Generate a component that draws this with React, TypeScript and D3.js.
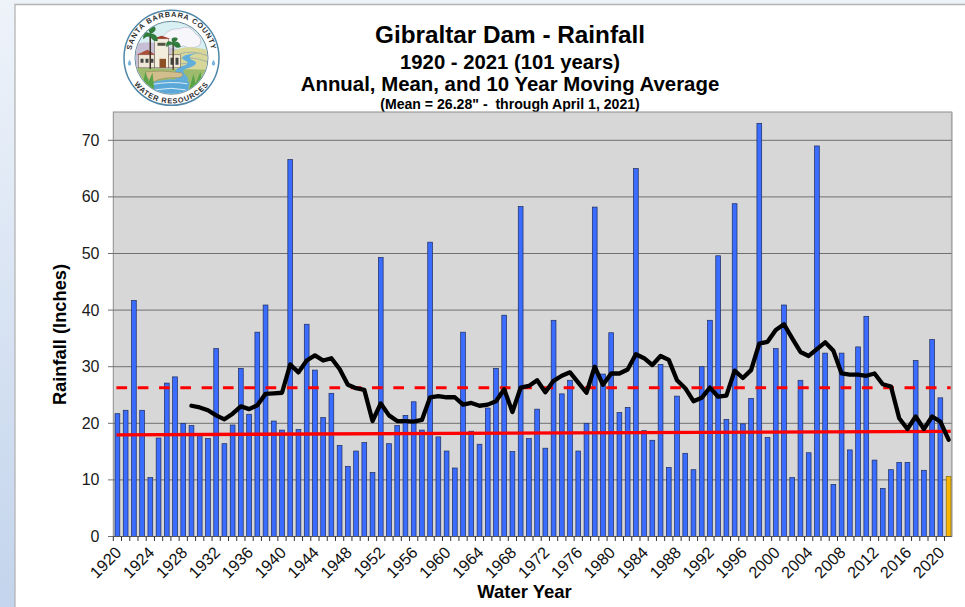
import React from "react";
import * as d3 from "d3";

const firstYear = 1920;
const annualRainfall = [
  21.7, 22.3, 41.7, 22.3, 10.4, 17.4, 27.1, 28.2, 20.0, 19.6,
  17.9, 17.3, 33.2, 16.4, 19.7, 29.7, 21.6, 36.1, 40.9, 20.4,
  18.8, 66.6, 18.9, 37.5, 29.4, 21.0, 25.3, 16.1, 12.4, 15.1,
  16.6, 11.3, 49.3, 16.4, 19.6, 21.4, 23.8, 18.8, 52.0, 17.6,
  15.1, 12.1, 36.1, 18.6, 16.3, 22.7, 29.7, 39.1, 15.0, 58.3,
  17.3, 22.5, 15.6, 38.2, 25.2, 27.6, 15.1, 20.0, 58.2, 28.7,
  36.0, 21.9, 22.8, 65.0, 18.7, 17.0, 30.4, 12.2, 24.8, 14.7,
  11.8, 30.0, 38.2, 49.6, 20.7, 58.8, 19.9, 24.4, 73.0, 17.5,
  33.2, 40.9, 10.4, 27.6, 14.8, 69.0, 32.4, 9.2, 32.4, 15.3,
  33.5, 38.9, 13.5, 8.5, 11.8, 13.1, 13.1, 31.1, 11.7, 34.8,
  24.5, 10.6,
];
const movingAverageStart = 1929;
const movingAverage = [
  23.1, 22.8, 22.3, 21.4, 20.7, 21.7, 23.0, 22.5, 23.2, 25.2,
  25.3, 25.4, 30.4, 29.0, 31.1, 32.0, 31.1, 31.5, 29.6, 26.8,
  26.2, 25.9, 20.4, 23.5, 21.4, 20.4, 20.4, 20.3, 20.6, 24.6,
  24.8, 24.6, 24.6, 23.3, 23.6, 23.1, 23.3, 23.9, 26.0, 22.0,
  26.3, 26.6, 27.6, 25.5, 27.5, 28.4, 29.0, 27.2, 25.4, 30.0,
  26.8, 28.8, 28.8, 29.5, 32.2, 31.5, 30.3, 31.9, 31.2, 27.6,
  26.2, 23.9, 24.5, 26.3, 24.7, 24.9, 29.3, 28.0, 29.4, 34.1,
  34.4, 36.5, 37.5, 35.0, 32.6, 31.9, 33.1, 34.3, 32.8, 28.8,
  28.6, 28.6, 28.4, 28.8, 26.9, 26.5, 20.9, 19.0, 21.2, 19.0,
  21.2, 20.3, 17.1,
];
const meanValue = 26.28;
const trendEnds = [17.97, 18.56];
const yTicks = [0, 10, 20, 30, 40, 50, 60, 70];
const titleLines = [
  "Gibraltar Dam - Rainfall",
  "1920 - 2021 (101 years)",
  "Annual, Mean, and 10 Year Moving Average",
  "(Mean = 26.28\" -  through April 1, 2021)",
];

const W = 965, H = 607;
const left = 113.3, right = 951.7, bandRight = 952.7, top = 112, bottom = 536.5;
const FONT = "'Liberation Sans', Arial, sans-serif";

const years = annualRainfall.map((_, i) => firstYear + i);
const x = d3.scaleBand<number>().domain(years).range([left, bandRight]).paddingInner(0.42).paddingOuter(0.21);
const y = d3.scaleLinear().domain([0, 75]).range([bottom, top]);
const cx = (yr: number) => (x(yr) as number) + x.bandwidth() / 2;
const step = x.step();

const maLine = d3.line<number>()
  .x((_, i) => cx(movingAverageStart + i))
  .y((d) => y(d))(movingAverage) as string;

function Logo() {
  const lx = 171.5, ly = 57.8;
  const p = (s: string) => s.replace(/(-?\d+\.?\d*),(-?\d+\.?\d*)/g, (_, a, b) => `${lx + +a},${ly + +b}`);
  return (
    <g>
      <defs>
        <clipPath id="logoClip"><circle cx={lx} cy={ly} r={36} /></clipPath>
        <path id="logoTop" d={`M ${lx - 40} ${ly + 8} A 40.8 40.8 0 1 1 ${lx + 40} ${ly + 8}`} />
        <path id="logoBottom" d={`M ${lx - 44} ${ly + 13} A 46 46 0 0 0 ${lx + 44} ${ly + 13}`} />
        <filter id="logoBlur"><feGaussianBlur stdDeviation="0.35" /></filter>
      </defs>
      <circle cx={lx} cy={ly} r={47.5} fill="#fff" stroke="#4f86a8" strokeWidth={1.5} />
      <circle cx={lx} cy={ly} r={36.5} fill="#d9f0f3" stroke="#5a7f92" strokeWidth={0.9} />
      <g clipPath="url(#logoClip)" filter="url(#logoBlur)">
        <path d={p("M-36,-14 Q-20,-18 -8,-12 L8,-8 L36,-8 L36,14 L-36,14 Z")} fill="#c7bfd6" />
        <path d={p("M-8,-22 Q-2,-30 8,-29 Q18,-34 24,-24 Q32,-20 28,-12 Q18,-8 12,-12 Q2,-8 -4,-14 Q-10,-16 -8,-22 Z")} fill="#f7f6fa" stroke="#a9a2bf" strokeWidth={0.5} />
        <path d={p("M0,-6 Q14,-14 36,-8 L36,20 L0,18 Z")} fill="#d7d79a" />
        <path d={p("M8,-4 Q22,-8 36,-2 M6,1 Q20,-2 36,4 M4,7 Q16,4 22,8")} fill="none" stroke="#9aa7a8" strokeWidth={0.8} />
        <path d={p("M-36,10 L36,12 L36,38 L-36,38 Z")} fill="#9dbb6c" />
        <path d={p("M29,-5 Q14,-3 20,2 Q30,5 18,10 Q8,12 14,17 Q20,22 12,26 L20,34 L-20,38 L-18,24 Q0,20 4,22 Q0,14 8,9 Q22,6 12,2 Q6,-3 29,-5 Z")} fill="#62aedb" />
        <path d={p("M-22,27 Q0,20 18,24 L16,36 L-20,38 Z")} fill="#5aa8d8" />
        <path d={p("M-22,27 Q0,23 16,26 M-16,32 Q0,29 14,32")} fill="none" stroke="#e6f4fb" strokeWidth={0.9} />
        <path d={p("M-26,14 Q-8,12 10,15 Q14,19 6,20 Q-8,19 -18,24 Q-26,22 -26,14 Z")} fill="#d2bd8c" stroke="#8d7d55" strokeWidth={0.5} />
        <rect x={lx - 33} y={ly - 3} width={16} height={13} fill="#efe8d8" stroke="#5a4c3e" strokeWidth={0.5} />
        <path d={p("M-35,-3 L-24,-8 L-16,-3 Z")} fill="#a9503a" />
        <path d={p("M-31,1 h3 v4 h-3 Z M-26,1 h3 v4 h-3 Z M-21,1 h3 v4 h-3 Z")} fill="#444" />
        <rect x={lx - 17} y={ly - 19} width={14} height={29} fill="#f3edde" stroke="#5a4c3e" strokeWidth={0.5} />
        <path d={p("M-19,-19 L-10,-22 L-1,-19 Z")} fill="#a33f2c" />
        <path d={p("M-14,-15 h8 v3 h-8 Z")} fill="#554" />
        <rect x={lx - 12} y={ly + 1} width={6.5} height={9} fill="#8c5028" />
        <rect x={lx - 3} y={ly - 3} width={12} height={13} fill="#efe8d8" stroke="#5a4c3e" strokeWidth={0.5} />
        <path d={p("M-1,0 h3 v7 h-3 Z M4,0 h3 v7 h-3 Z")} fill="#444" />
        <rect x={lx - 22} y={ly - 22} width={1.5} height={33} fill="#3f3225" />
        <path d={p("M-21,-24 Q-29,-28 -28,-19 Q-25,-23 -21,-21 Q-18,-16 -14,-17 Q-14,-24 -21,-24 Z M-21,-24 Q-26,-32 -17,-31 Q-14,-27 -21,-24 Z")} fill="#2f7d3a" stroke="#1f5a2a" strokeWidth={0.4} />
        <rect x={lx + 1} y={ly - 14} width={1.3} height={26} fill="#3f3225" />
        <path d={p("M1.5,-15 Q-6,-19 -5,-11 Q-2,-14 1.5,-13 Q5,-9 9,-11 Q8,-18 1.5,-15 Z M1.5,-15 Q-2,-21 5,-20 Q8,-18 1.5,-15 Z")} fill="#2f7d3a" stroke="#1f5a2a" strokeWidth={0.4} />
        <path d={p("M-30,30 L-26,14 L-23,24 L-19,15 L-17,34 L-24,36 Z")} fill="#58a346" />
        <path d={p("M17,34 L22,16 L24,26 L29,14 L31,28 L24,36 Z")} fill="#58a346" />
      </g>
      <text fontFamily={FONT} fontSize={7.3} fontWeight={700} fill="#2e2e2e" letterSpacing={0.85}>
        <textPath href="#logoTop" startOffset="50%" textAnchor="middle">SANTA BARBARA COUNTY</textPath>
      </text>
      <text fontFamily={FONT} fontSize={7.3} fontWeight={700} fill="#2e2e2e" letterSpacing={0.85}>
        <textPath href="#logoBottom" startOffset="50%" textAnchor="middle">WATER RESOURCES</textPath>
      </text>
      <path d={`M ${lx - 42} ${ly + 2} q -3.5 5 0 6 q 3.5 -1 0 -6 Z`} fill="#7fb7dc" />
      <path d={`M ${lx + 42} ${ly + 2} q -3.5 5 0 6 q 3.5 -1 0 -6 Z`} fill="#7fb7dc" />
    </g>
  );
}

export default function App() {
  return (
    <svg width={W} height={H} viewBox={`0 0 ${W} ${H}`}
      style={{ position: "fixed", left: 0, top: 0, display: "block", fontFamily: FONT }}>
      <defs>
        <linearGradient id="pageBg" x1="0" y1="0" x2="0" y2="1">
          <stop offset="0" stopColor="#eef3fa" />
          <stop offset="1" stopColor="#c3d4ec" />
        </linearGradient>
      </defs>
      <rect width={W} height={H} fill="url(#pageBg)" />
      <rect x={15} y={4.5} width={W - 15} height={H - 4.5} fill="#fff" />
      <path d={`M 15 ${H} V 4.5 H ${W}`} fill="none" stroke="#b4b4b4" strokeWidth={1.3} />
      <Logo />

      {titleLines.map((t, i) => (
        <text key={i} x={510} y={[42.7, 68.5, 91.3, 108.5][i]} textAnchor="middle" fontWeight={700}
          fontSize={[24.3, 20.3, 20.4, 14.1][i]} fill="#000" style={{ whiteSpace: "pre" }}>{t}</text>
      ))}

      <rect x={left} y={top} width={right - left} height={bottom - top} fill="#d7d7d7" stroke="#8c8c8c" strokeWidth={1} />
      <line x1={right} x2={right} y1={top} y2={bottom} stroke="#a8a8a8" strokeWidth={1.6} />
      {yTicks.map((t) => (
        <g key={t}>
          {t > 0 && <line x1={left} x2={right} y1={y(t)} y2={y(t)} stroke="#707070" strokeWidth={1} />}
          <line x1={108} x2={left} y1={y(t)} y2={y(t)} stroke="#707070" strokeWidth={1} />
          <text x={99.5} y={y(t) + 5.5} textAnchor="end" fontSize={16} fill="#1a1a1a">{t}</text>
        </g>
      ))}

      {years.map((yr, i) => (
        <rect key={yr} x={x(yr)} y={y(annualRainfall[i])} width={x.bandwidth()} height={bottom - y(annualRainfall[i])}
          fill={yr === 2021 ? "#f7b500" : "#3a6cff"} stroke={yr === 2021 ? "#8a6a10" : "#1e2c5c"} strokeWidth={0.7} />
      ))}

      <line x1={cx(firstYear) - 1} x2={right - 1} y1={y(trendEnds[0])} y2={y(trendEnds[1])} stroke="#ff0000" strokeWidth={3.3} />
      <line x1={cx(firstYear) - 1} x2={right - 1} y1={y(meanValue)} y2={y(meanValue)} stroke="#ff0000" strokeWidth={2.8} strokeDasharray="10.7 10.6" />
      <path d={maLine} fill="none" stroke="#000" strokeWidth={4.3} strokeLinejoin="round" strokeLinecap="round" />

      <line x1={left} x2={right} y1={bottom} y2={bottom} stroke="#555" strokeWidth={1} />
      {years.map((yr, i) => (
        <line key={yr} x1={left + i * step} x2={left + i * step} y1={bottom} y2={bottom + 4.5} stroke="#333" strokeWidth={1} />
      ))}
      {years.filter((yr) => (yr - firstYear) % 4 === 0).map((yr) => (
        <text key={yr} transform={`translate(${cx(yr) + 2},${bottom + 14}) rotate(-45)`} textAnchor="end"
          dominantBaseline="middle" fontSize={16.3} fill="#111">{yr}</text>
      ))}

      <text x={524.5} y={597.5} textAnchor="middle" fontWeight={700} fontSize={18.5} fill="#000">Water Year</text>
      <text transform={`translate(65.5,334.5) rotate(-90)`} textAnchor="middle" fontWeight={700} fontSize={18.3} fill="#000">Rainfall (Inches)</text>
    </svg>
  );
}
